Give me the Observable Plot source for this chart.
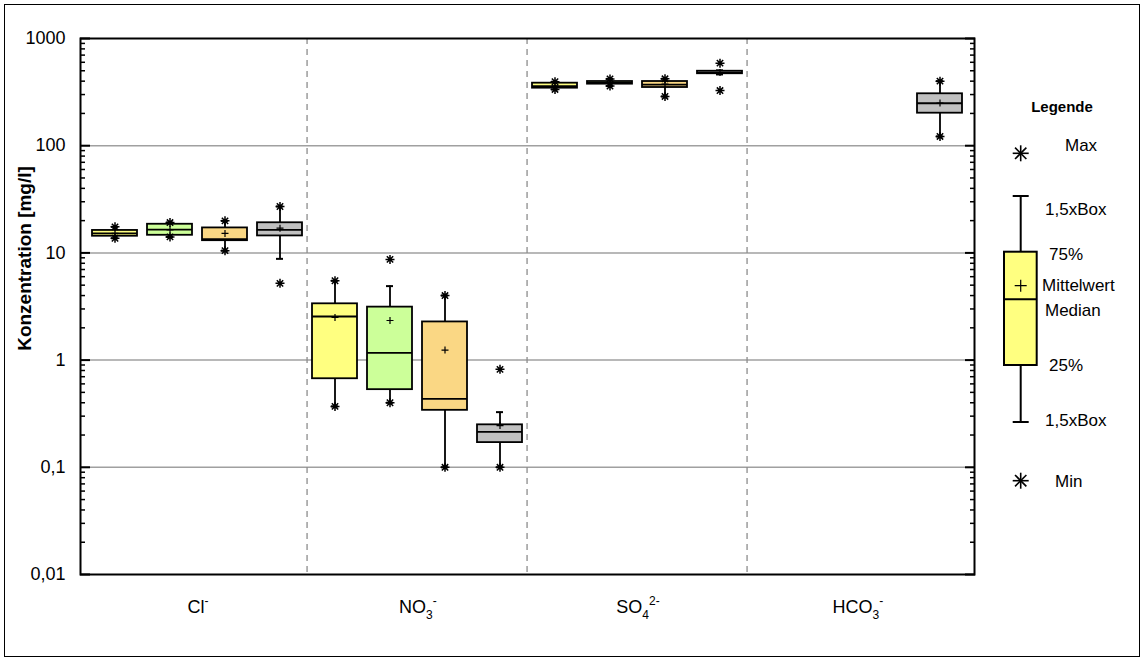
<!DOCTYPE html>
<html><head><meta charset="utf-8">
<script src="https://cdn.jsdelivr.net/npm/d3@7"></script>
<script src="https://cdn.jsdelivr.net/npm/@observablehq/plot@0.6"></script>
<style>
html,body{margin:0;padding:0;background:#fff;}
#wrap{position:relative;width:1144px;height:662px;font-family:"Liberation Sans",Arial,sans-serif;overflow:hidden;}
#border{position:absolute;left:4px;top:4px;width:1136px;height:653px;border:1.5px solid #000;box-sizing:border-box;pointer-events:none;}
#chart{position:absolute;left:0;top:0;}
#legend{position:absolute;left:990px;top:0;}
</style></head><body>
<div id="wrap"><div id="chart"></div><svg id="legend" width="150" height="662"></svg><div id="border"></div></div>
<script>
// ---- data ----
const ions = ["Cl", "NO3", "SO4", "HCO3"];
const ionBase = ["Cl", "NO", "SO", "HCO"];
const ionSub = ["", "3", "4", "3"];
const ionSup = ["-", "-", "2-", "-"];
const series = ["Reihe 1", "Reihe 2", "Reihe 3", "Reihe 4"];
const colors = ["#ffff80", "#ccff99", "#fad784", "#c0c0c0"];
// rows: ions, columns: series
const minV   = [[13.7, 14.1, 10.5, 5.2], [0.37, 0.40, 0.10, 0.10], [335, 360, 288, 327], [null, null, null, 122]];
const whiskLo= [[13.7, 14.1, 10.5, 8.8], [0.37, 0.40, 0.10, 0.10], [335, 360, 288, 462], [null, null, null, 122]];
const q1     = [[14.3, 14.6, 13.0, 14.4], [0.67, 0.53, 0.34, 0.17], [344, 375, 349, 469], [null, null, null, 201]];
const median = [[15.2, 16.5, 13.4, 16.4], [2.55, 1.17, 0.435, 0.214], [360, 385, 372, 480], [null, null, null, 249]];
const mean   = [[15.2, 16.4, 15.2, 17.0], [2.5, 2.34, 1.24, 0.245], [362, 388, 375, 482], [null, null, null, 250]];
const q3     = [[16.2, 18.5, 17.1, 19.1], [3.35, 3.12, 2.27, 0.249], [383, 397, 397, 495], [null, null, null, 305]];
const whiskHi= [[17.5, 19.2, 19.9, 27.1], [5.5, 4.9, 4.0, 0.327], [395, 420, 421, 505], [null, null, null, 400]];
const maxV   = [[17.5, 19.2, 19.9, 27.1], [5.5, 8.7, 4.0, 0.82], [395, 420, 421, 589], [null, null, null, 400]];
const yTicks = [0.01, 0.1, 1, 10, 100, 1000];
const gridVals = [0.1, 1, 10, 100];
const yTitle = "Konzentration [mg/l]";
const legendTitle = "Legende";
const legendLabels = {max: "Max", hiW: "1,5xBox", q3: "75%", mean: "Mittelwert", med: "Median", q1: "25%", loW: "1,5xBox", min: "Min"};

// ---- build table ----
const rows = [];
ions.forEach((ion, i) => series.forEach((s, j) => {
  if (q1[i][j] == null) return;
  rows.push({key: ion + "|" + s, ion, series: s, color: colors[j],
    min: minV[i][j], lo: whiskLo[i][j], q1: q1[i][j], med: median[i][j],
    mean: mean[i][j], q3: q3[i][j], hi: whiskHi[i][j], max: maxV[i][j]});
}));
const xDomain = ions.flatMap(ion => series.map(s => ion + "|" + s));
const dividerKeys = ions.slice(1).map(ion => ion + "|" + series[0]);
const minorTicks = [];
for (let e = -2; e < 3; e++) for (let m = 2; m < 10; m++) minorTicks.push(+(m * Math.pow(10, e)).toPrecision(3));
const ionText = ions.map((d, i) => ionBase[i] + ionSub[i] + ionSup[i]);

// ---- layout ----
const FONT = '"Liberation Sans", Arial, Helvetica, sans-serif';
const W = 990, H = 662, mL = 80, mR = 16, mT = 38, mB = 88;
const padIn = 0.186, padOut = 0.093;
const step = (W - mL - mR) / (xDomain.length - padIn + 2 * padOut);
const capInset = 19;

function starSymbol() {
  return {draw(ctx, size) {
    const r = Math.sqrt(size / Math.PI);
    for (let k = 0; k < 4; k++) {
      const a = k * Math.PI / 4, c = Math.cos(a) * r, s = Math.sin(a) * r;
      ctx.moveTo(-c, -s); ctx.lineTo(c, s);
    }
  }};
}
const plusSymbol = {draw(ctx, size) {
  const r = Math.sqrt(size / Math.PI);
  ctx.moveTo(-r, 0); ctx.lineTo(r, 0); ctx.moveTo(0, -r); ctx.lineTo(0, r);
}};
const fmt = d => String(d).replace(".", ",");

const chart = Plot.plot({
  width: W, height: H, marginLeft: mL, marginRight: mR, marginTop: mT, marginBottom: mB,
  style: {fontFamily: FONT, fontSize: "18px", color: "black", background: "white", overflow: "visible"},
  x: {type: "band", domain: xDomain, paddingInner: padIn, paddingOuter: padOut, axis: null},
  y: {type: "log", domain: [0.01, 1000], label: null},
  color: {type: "identity"},
  marks: [
    Plot.ruleY(gridVals, {y: d => d, stroke: "#a0a0a0", strokeWidth: 1.5}),
    Plot.ruleX(dividerKeys, {x: d => d, dx: -step / 2, stroke: "#8c8c8c", strokeWidth: 1.3, strokeDasharray: "6,5"}),
    Plot.ruleX(rows, {x: "key", y1: "lo", y2: "hi", stroke: "black", strokeWidth: 1.8}),
    Plot.tickY(rows, {x: "key", y: "lo", insetLeft: capInset, insetRight: capInset, stroke: "black", strokeWidth: 2}),
    Plot.tickY(rows, {x: "key", y: "hi", insetLeft: capInset, insetRight: capInset, stroke: "black", strokeWidth: 2}),
    Plot.barY(rows, {x: "key", y1: "q1", y2: "q3", fill: d => d.color, stroke: "black", strokeWidth: 1.8}),
    Plot.tickY(rows, {x: "key", y: "med", stroke: "black", strokeWidth: 1.8}),
    Plot.dot(rows, {x: "key", y: "mean", symbol: plusSymbol, r: 3.5, fill: "none", stroke: "black", strokeWidth: 1.2}),
    Plot.dot(rows, {x: "key", y: "max", symbol: starSymbol(), r: 4.5, fill: "none", stroke: "black", strokeWidth: 1.5}),
    Plot.dot(rows, {x: "key", y: "min", symbol: starSymbol(), r: 4.5, fill: "none", stroke: "black", strokeWidth: 1.5}),
    Plot.frame({stroke: "black", strokeWidth: 2}),
    Plot.axisY({ticks: yTicks, tickSize: -10, tickPadding: 25, tickFormat: fmt, fontSize: 18, strokeWidth: 2, label: null}),
    Plot.axisY({ticks: minorTicks, tickSize: -5, tickFormat: () => "", strokeWidth: 1.5, label: null}),
    Plot.axisY({anchor: "right", ticks: yTicks, tickSize: -10, tickFormat: () => "", strokeWidth: 2, label: null}),
    Plot.axisY({anchor: "right", ticks: minorTicks, tickSize: -5, tickFormat: () => "", strokeWidth: 1.5, label: null}),
    Plot.text(ions, {x: ion => ion + "|" + series[1], dx: step / 2, frameAnchor: "bottom", dy: 38,
      text: (d, i) => ionText[i], fontSize: 18}),
    Plot.text([yTitle], {text: d => d, frameAnchor: "left", textAnchor: "middle", dx: -56, dy: -48, rotate: -90, fontWeight: "bold", fontSize: 19})
  ]
});
document.getElementById("chart").append(chart);

// sub/superscripts in ion labels
d3.select(chart).selectAll("text").each(function() {
  const k = ionText.indexOf(this.textContent);
  if (k < 0) return;
  const t = d3.select(this);
  t.text(null);
  t.append("tspan").text(ionBase[k]);
  if (ionSub[k]) t.append("tspan").attr("dy", 6).attr("font-size", 12).text(ionSub[k]);
  if (ionSup[k]) t.append("tspan").attr("dy", ionSub[k] ? -14 : -8).attr("font-size", 12).text(ionSup[k]);
});

// ---- legend (illustration of a box) ----
const lg = d3.select("#legend").attr("font-family", FONT).attr("font-size", 17);
const cx = 30.7;
function drawStar(x, y, r) {
  const g = lg.append("g").attr("stroke", "black").attr("stroke-width", 1.6);
  for (let k = 0; k < 4; k++) {
    const a = k * Math.PI / 4, c = Math.cos(a) * r, s = Math.sin(a) * r;
    g.append("line").attr("x1", x - c).attr("y1", y - s).attr("x2", x + c).attr("y2", y + s);
  }
}
lg.append("text").attr("x", 72).attr("y", 112).attr("text-anchor", "middle").attr("font-weight", "bold").attr("font-size", 15).text(legendTitle);
drawStar(cx, 153.3, 8);
lg.append("text").attr("x", 75).attr("y", 151).text(legendLabels.max);
lg.append("line").attr("x1", cx).attr("x2", cx).attr("y1", 196).attr("y2", 422).attr("stroke", "black").attr("stroke-width", 2);
lg.append("line").attr("x1", cx - 8).attr("x2", cx + 8).attr("y1", 196).attr("y2", 196).attr("stroke", "black").attr("stroke-width", 2);
lg.append("line").attr("x1", cx - 8).attr("x2", cx + 8).attr("y1", 422).attr("y2", 422).attr("stroke", "black").attr("stroke-width", 2);
lg.append("rect").attr("x", 14).attr("y", 251.7).attr("width", 32.7).attr("height", 113.3).attr("fill", colors[0]).attr("stroke", "black").attr("stroke-width", 2);
lg.append("line").attr("x1", 14).attr("x2", 46.7).attr("y1", 299.3).attr("y2", 299.3).attr("stroke", "black").attr("stroke-width", 2);
lg.append("path").attr("d", `M${cx - 6},285.7H${cx + 6}M${cx},279.7V291.7`).attr("stroke", "black").attr("stroke-width", 1.2);
lg.append("text").attr("x", 55).attr("y", 215).text(legendLabels.hiW);
lg.append("text").attr("x", 59).attr("y", 260).text(legendLabels.q3);
lg.append("text").attr("x", 52).attr("y", 291).text(legendLabels.mean);
lg.append("text").attr("x", 55).attr("y", 316).text(legendLabels.med);
lg.append("text").attr("x", 59).attr("y", 371).text(legendLabels.q1);
lg.append("text").attr("x", 55).attr("y", 426).text(legendLabels.loW);
drawStar(cx, 480.7, 8);
lg.append("text").attr("x", 65).attr("y", 487).text(legendLabels.min);
</script>
</body></html>
